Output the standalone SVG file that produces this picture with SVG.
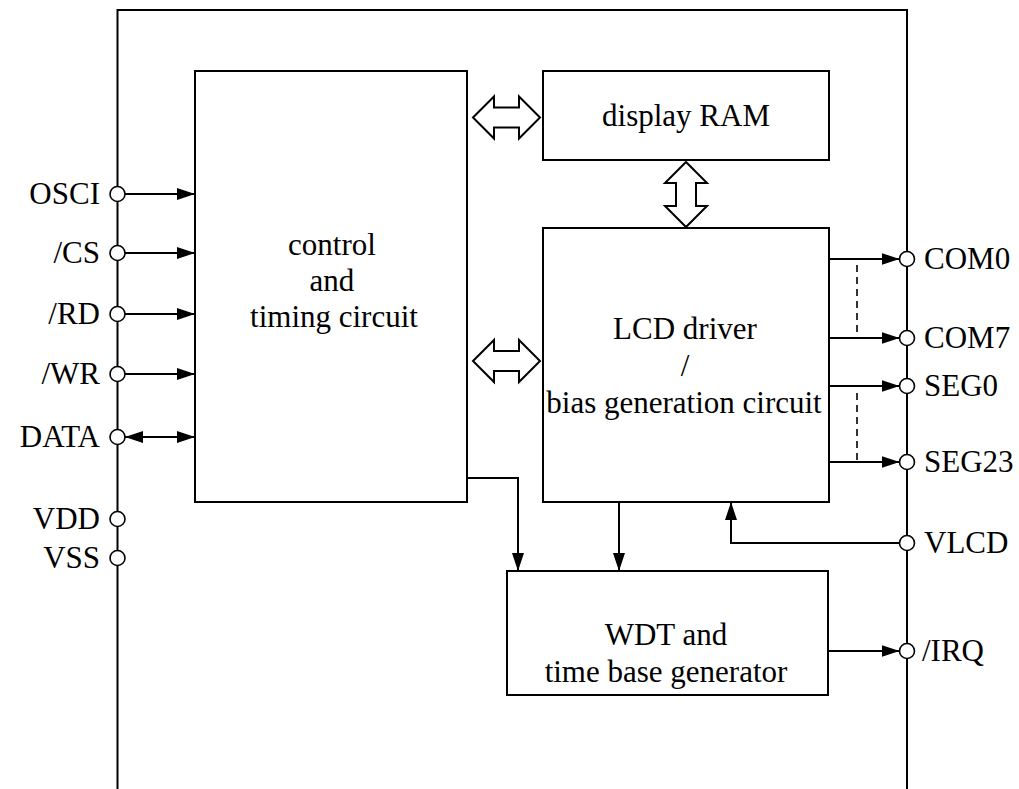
<svg xmlns="http://www.w3.org/2000/svg" width="1019" height="789" viewBox="0 0 1019 789">
<style>
.box{fill:#fff;stroke:#000;stroke-width:2}
.ln{fill:none;stroke:#000;stroke-width:2}
.dash{fill:none;stroke:#000;stroke-width:1.6;stroke-dasharray:7,5}
.pin{fill:#fff;stroke:#000;stroke-width:1.6}
.hol{fill:#fff;stroke:#000;stroke-width:2;stroke-linejoin:miter}
.c{text-anchor:middle}
.r{text-anchor:end}
</style>
<defs>
<marker id="ah" viewBox="0 0 18 12" refX="18" refY="6" markerWidth="18" markerHeight="12" markerUnits="userSpaceOnUse" orient="auto-start-reverse">
<path d="M0,0 L18,6 L0,12 Z" fill="#000"/>
</marker>
</defs>
<rect width="1019" height="789" fill="#fff"/>
<g id="frame">
<path class="ln" d="M117.5,789 V10 H907 V789"/>
</g>
<g font-family="'Liberation Serif', 'Times New Roman', 'DejaVu Serif', serif" font-size="31" fill="#000">
<g id="control">
<rect class="box" x="195" y="71" width="272" height="431"/>
<text class="c" x="332" y="255">control</text>
<text class="c" x="332" y="291">and</text>
<text class="c" x="334" y="327">timing circuit</text>
</g>
<g id="displayram">
<rect class="box" x="543" y="71" width="286" height="89"/>
<text class="c" x="686" y="126">display RAM</text>
</g>
<g id="lcddriver">
<rect class="box" x="543" y="228" width="286" height="274"/>
<text class="c" x="685" y="339">LCD driver</text>
<text class="c" x="685" y="376">/</text>
<text class="c" x="684" y="413">bias generation circuit</text>
</g>
<g id="wdt">
<rect class="box" x="507" y="571" width="321" height="124"/>
<text class="c" x="666" y="645">WDT and</text>
<text class="c" x="666" y="682">time base generator</text>
</g>
<g id="connectors">
<polygon class="hol" points="473,117.5 494,96.5 494,107.5 519,107.5 519,96.5 540,117.5 519,138.5 519,127.5 494,127.5 494,138.5"/>
<polygon class="hol" points="473,361 494,340 494,351 519,351 519,340 540,361 519,382 519,371 494,371 494,382"/>
<polygon class="hol" points="686,162 707,183 696,183 696,206 707,206 686,227 665,206 676,206 676,183 665,183"/>
<line class="ln" x1="125" y1="194" x2="195" y2="194" marker-end="url(#ah)"/>
<line class="ln" x1="125" y1="253" x2="195" y2="253" marker-end="url(#ah)"/>
<line class="ln" x1="125" y1="314" x2="195" y2="314" marker-end="url(#ah)"/>
<line class="ln" x1="125" y1="374" x2="195" y2="374" marker-end="url(#ah)"/>
<line class="ln" x1="125" y1="437" x2="195" y2="437" marker-start="url(#ah)" marker-end="url(#ah)"/>
<line class="ln" x1="829" y1="259" x2="899.5" y2="259" marker-end="url(#ah)"/>
<line class="ln" x1="829" y1="338" x2="899.5" y2="338" marker-end="url(#ah)"/>
<line class="ln" x1="829" y1="386" x2="899.5" y2="386" marker-end="url(#ah)"/>
<line class="ln" x1="829" y1="462" x2="899.5" y2="462" marker-end="url(#ah)"/>
<line class="dash" x1="857" y1="265" x2="857" y2="332"/>
<line class="dash" x1="857" y1="393" x2="857" y2="460"/>
<polyline class="ln" points="467,478 518,478 518,571" marker-end="url(#ah)"/>
<line class="ln" x1="619" y1="502" x2="619" y2="571" marker-end="url(#ah)"/>
<polyline class="ln" points="899.5,543 731,543 731,502" marker-end="url(#ah)"/>
<line class="ln" x1="828" y1="651" x2="899.5" y2="651" marker-end="url(#ah)"/>
</g>
<g id="pins-left">
<circle class="pin" cx="117.5" cy="194" r="7.5"/>
<circle class="pin" cx="117.5" cy="253" r="7.5"/>
<circle class="pin" cx="117.5" cy="314" r="7.5"/>
<circle class="pin" cx="117.5" cy="374" r="7.5"/>
<circle class="pin" cx="117.5" cy="437" r="7.5"/>
<circle class="pin" cx="117.5" cy="519" r="7.5"/>
<circle class="pin" cx="117.5" cy="558" r="7.5"/>
<text class="r" x="100" y="204">OSCI</text>
<text class="r" x="100" y="263">/CS</text>
<text class="r" x="100" y="324">/RD</text>
<text class="r" x="100" y="384">/WR</text>
<text class="r" x="100" y="447">DATA</text>
<text class="r" x="100" y="529">VDD</text>
<text class="r" x="100" y="568">VSS</text>
</g>
<g id="pins-right">
<circle class="pin" cx="907" cy="259" r="7.5"/>
<circle class="pin" cx="907" cy="338" r="7.5"/>
<circle class="pin" cx="907" cy="386" r="7.5"/>
<circle class="pin" cx="907" cy="462" r="7.5"/>
<circle class="pin" cx="907" cy="543" r="7.5"/>
<circle class="pin" cx="907" cy="651" r="7.5"/>
<text x="924" y="269">COM0</text>
<text x="924" y="348">COM7</text>
<text x="924" y="396">SEG0</text>
<text x="924" y="472">SEG23</text>
<text x="924" y="553">VLCD</text>
<text x="922" y="661">/IRQ</text>
</g>
</g>
</svg>
